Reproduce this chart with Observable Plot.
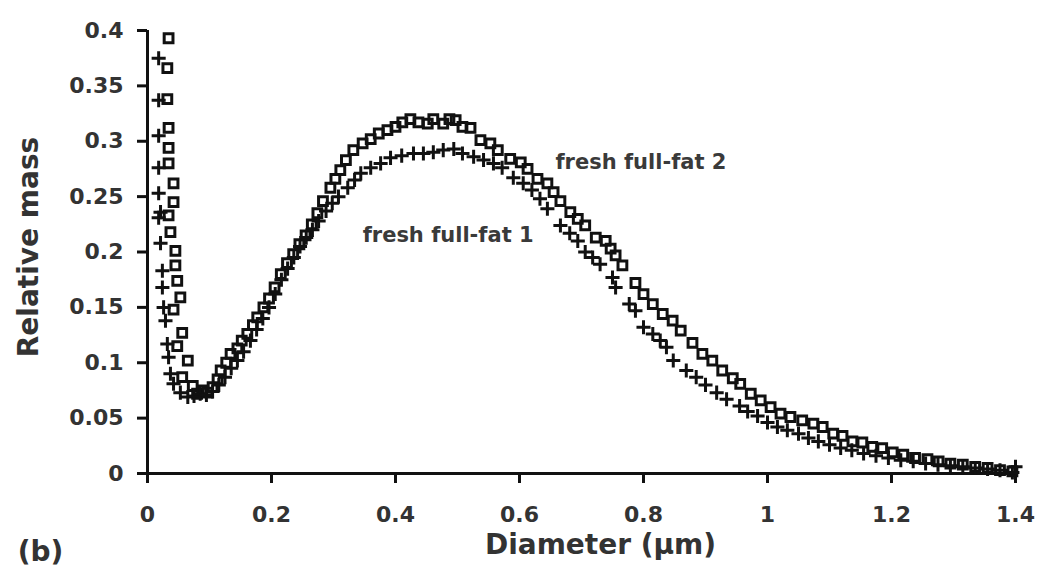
<!DOCTYPE html>
<html>
<head>
<meta charset="utf-8">
<script src="https://cdn.jsdelivr.net/npm/d3@7"></script>
<script src="https://cdn.jsdelivr.net/npm/@observablehq/plot@0.6"></script>
<style>
  html, body { margin: 0; padding: 0; background: #ffffff; }
  #chart { width: 1040px; height: 576px; overflow: hidden; }
</style>
</head>
<body>
<div id="chart"></div>
<script>
// ---- data ----
const xTicks = [0, 0.2, 0.4, 0.6, 0.8, 1, 1.2, 1.4];
const xTickLabels = ["0", "0.2", "0.4", "0.6", "0.8", "1", "1.2", "1.4"];
const yTicks = [0, 0.05, 0.1, 0.15, 0.2, 0.25, 0.3, 0.35, 0.4];
const yTickLabels = ["0", "0.05", "0.1", "0.15", "0.2", "0.25", "0.3", "0.35", "0.4"];

const seriesNames = ["fresh full-fat 1", "fresh full-fat 2"];

// fresh full-fat 1 (plus markers)
const diam1 = [0.018,0.018,0.018,0.018,0.018,0.021,0.018,0.021,0.024,0.024,0.026,0.029,0.032,0.034,0.037,0.042,0.053,0.065,0.075,0.085,0.095,0.105,0.115,0.125,0.135,0.145,0.155,0.166,0.176,0.186,0.196,0.206,0.216,0.226,0.236,0.246,0.256,0.266,0.276,0.288,0.298,0.308,0.323,0.334,0.344,0.360,0.376,0.392,0.410,0.429,0.445,0.461,0.477,0.494,0.508,0.526,0.542,0.558,0.572,0.590,0.606,0.620,0.633,0.645,0.666,0.681,0.694,0.706,0.718,0.730,0.750,0.755,0.777,0.787,0.800,0.815,0.827,0.837,0.848,0.869,0.885,0.900,0.918,0.934,0.955,0.968,0.984,1.000,1.016,1.032,1.050,1.066,1.082,1.100,1.118,1.136,1.155,1.175,1.195,1.215,1.235,1.255,1.275,1.295,1.315,1.335,1.355,1.375,1.395,1.400];
const mass1 = [0.375,0.337,0.305,0.276,0.253,0.236,0.231,0.208,0.183,0.168,0.150,0.138,0.117,0.105,0.090,0.081,0.073,0.069,0.070,0.072,0.071,0.074,0.080,0.087,0.095,0.102,0.110,0.120,0.130,0.140,0.150,0.162,0.175,0.185,0.195,0.205,0.213,0.220,0.228,0.237,0.244,0.250,0.258,0.265,0.271,0.276,0.280,0.285,0.287,0.289,0.289,0.290,0.292,0.293,0.289,0.286,0.283,0.280,0.276,0.267,0.262,0.256,0.248,0.239,0.224,0.217,0.210,0.200,0.195,0.189,0.177,0.168,0.153,0.147,0.132,0.126,0.120,0.114,0.102,0.093,0.087,0.080,0.073,0.067,0.061,0.056,0.052,0.046,0.042,0.039,0.036,0.032,0.029,0.026,0.023,0.021,0.018,0.016,0.014,0.012,0.011,0.009,0.008,0.007,0.006,0.005,0.004,0.003,0.001,0.006];

// fresh full-fat 2 (open squares)
const diam2 = [0.034,0.032,0.032,0.034,0.034,0.034,0.042,0.042,0.034,0.037,0.045,0.045,0.048,0.053,0.042,0.056,0.048,0.065,0.056,0.073,0.080,0.088,0.097,0.105,0.113,0.118,0.127,0.134,0.145,0.152,0.161,0.170,0.177,0.187,0.196,0.205,0.215,0.225,0.235,0.245,0.255,0.265,0.274,0.283,0.295,0.303,0.311,0.320,0.332,0.347,0.360,0.373,0.387,0.400,0.411,0.424,0.437,0.452,0.461,0.477,0.487,0.497,0.508,0.521,0.537,0.553,0.565,0.585,0.602,0.613,0.629,0.645,0.655,0.666,0.682,0.694,0.706,0.723,0.739,0.747,0.755,0.766,0.787,0.800,0.815,0.831,0.847,0.860,0.879,0.895,0.911,0.927,0.944,0.956,0.973,0.989,1.005,1.021,1.037,1.056,1.074,1.089,1.106,1.121,1.137,1.153,1.169,1.185,1.202,1.219,1.238,1.258,1.276,1.295,1.315,1.335,1.355,1.375,1.395];
const mass2 = [0.393,0.366,0.338,0.312,0.294,0.280,0.262,0.245,0.233,0.218,0.201,0.188,0.174,0.159,0.148,0.127,0.115,0.102,0.087,0.079,0.072,0.075,0.073,0.078,0.085,0.093,0.100,0.108,0.113,0.120,0.126,0.134,0.141,0.150,0.158,0.168,0.180,0.190,0.198,0.207,0.215,0.225,0.235,0.246,0.258,0.266,0.274,0.283,0.292,0.298,0.302,0.307,0.310,0.313,0.317,0.320,0.317,0.316,0.320,0.316,0.320,0.319,0.313,0.312,0.301,0.298,0.292,0.284,0.281,0.275,0.266,0.262,0.254,0.246,0.236,0.230,0.224,0.213,0.210,0.203,0.197,0.188,0.172,0.162,0.153,0.144,0.138,0.129,0.118,0.108,0.102,0.093,0.086,0.081,0.072,0.066,0.060,0.054,0.051,0.048,0.045,0.042,0.036,0.034,0.029,0.028,0.024,0.023,0.019,0.017,0.014,0.013,0.011,0.009,0.008,0.006,0.005,0.003,0.002];

// series label anchor positions (data units)
const labelX = [0.347, 0.658];
const labelY = [0.215, 0.281];

// ---- build tables ----
const s1 = diam1.map((d, i) => ({x: d, y: mass1[i]}));
const s2 = diam2.map((d, i) => ({x: d, y: mass2[i]}));
const labels = seriesNames.map((n, i) => ({name: n, x: labelX[i], y: labelY[i]}));

const FONT = "DejaVu Sans, Liberation Sans, Arial, sans-serif";
const INK = "#111";
const TXT = "#333";

const chart = Plot.plot({
  width: 1040,
  height: 576,
  marginLeft: 147,
  marginRight: 25,
  marginTop: 30,
  marginBottom: 103,
  style: {background: "transparent", fontFamily: FONT, color: INK},
  x: {domain: [0, 1.4]},
  y: {domain: [0, 0.4]},
  marks: [
    Plot.axisX({ticks: xTicks, tickFormat: (d) => xTickLabels[xTicks.indexOf(d)], tickSize: 10, tickPadding: 23, strokeWidth: 3, fontSize: 22, fontWeight: "bold", fill: TXT, label: null}),
    Plot.axisY({ticks: yTicks, tickFormat: (d) => yTickLabels[yTicks.indexOf(d)], tickSize: 10, tickPadding: 14, strokeWidth: 3, fontSize: 22, fontWeight: "bold", fill: TXT, label: null}),
    Plot.ruleX([0], {y1: 0, y2: 0.4, stroke: INK, strokeWidth: 3}),
    Plot.ruleY([0], {x1: 0, x2: 1.4, stroke: INK, strokeWidth: 3}),
    Plot.dot(s2, {x: "x", y: "y", symbol: "square2", r: 5.6, stroke: INK, strokeWidth: 3, fill: "none"}),
    Plot.dot(s1, {x: "x", y: "y", symbol: "plus", r: 4.6, stroke: INK, strokeWidth: 3}),
    Plot.text(labels, {x: "x", y: "y", text: "name", textAnchor: "start", lineAnchor: "middle", fontSize: 21, fontWeight: "bold", fill: "#3a3a3a"}),
    Plot.text(["Relative mass"], {frameAnchor: "left", textAnchor: "middle", dx: -118, dy: -5, rotate: -90, fontSize: 28, fontWeight: "bold", fill: TXT}),
    Plot.text(["Diameter (\u00b5m)"], {frameAnchor: "bottom", dx: 19, dy: 80, fontSize: 28, fontWeight: "bold", fill: TXT}),
    Plot.text(["(b)"], {frameAnchor: "bottom-left", textAnchor: "middle", dx: -107, dy: 87, fontSize: 28, fontWeight: "bold", fill: TXT})
  ]
});
document.getElementById("chart").appendChild(chart);
</script>
</body>
</html>
